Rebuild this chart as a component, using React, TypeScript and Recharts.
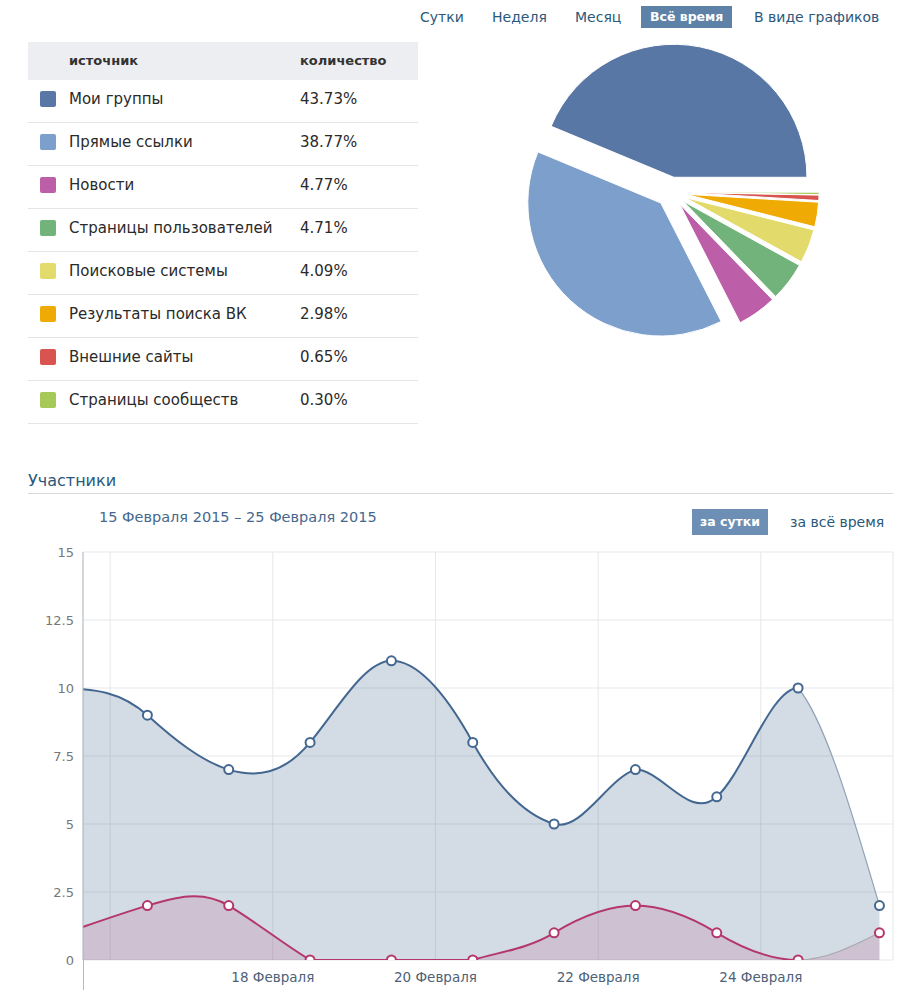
import React from 'react';
import {
  PieChart, Pie, Sector, ComposedChart, Area, Line, XAxis, YAxis, CartesianGrid,
} from 'recharts';

// Traffic sources (table + pie)
const SOURCES = [
  'Мои группы',
  'Прямые ссылки',
  'Новости',
  'Страницы пользователей',
  'Поисковые системы',
  'Результаты поиска ВК',
  'Внешние сайты',
  'Страницы сообществ',
];
const SHARES = [43.73, 38.77, 4.77, 4.71, 4.09, 2.98, 0.65, 0.3];
const SOURCE_COLORS = [
  '#5877a4', '#7d9fcb', '#bc5ea8', '#72b27b', '#e2db6c', '#efaa04', '#d9534f', '#a6c957',
];

const PERIODS = ['Сутки', 'Неделя', 'Месяц', 'Всё время', 'В виде графиков'];

// Members per day, 15–25 February 2015 (points stamped at 11:00)
const DAYS = [15, 16, 17, 18, 19, 20, 21, 22, 23, 24, 25];
const JOINED = [10, 9, 7, 8, 11, 8, 5, 7, 6, 10, 2];
const LEFT = [1, 2, 2, 0, 0, 0, 1, 2, 1, 0, 1];
const STAMP_HOUR = 11;
const VIEW = [15 + 16 / 24, 25 + 15 / 24];
const DAY_TICKS = [16, 18, 20, 22, 24];
const VALUE_TICKS = [0, 2.5, 5, 7.5, 10, 12.5, 15];

const FONT = '"DejaVu Sans", Verdana, sans-serif';
const LINK = '#2b587a';
const BLUE = '#436790';
const RED = '#b4376b';

const rows = DAYS.map((d, i) => ({ t: d + STAMP_HOUR / 24, joined: JOINED[i], left: LEFT[i] }));
const pieData = SOURCES.map((name, i) => ({ name, value: SHARES[i] }));

// Cardinal-like spline: may dip, but never rises above a peak point
// and never sinks below the series' lowest point
const TENSION = 1.8;
const tangents = (xs: number[], ys: number[]) => {
  const n = xs.length;
  const m = new Array(n).fill(0);
  if (n < 2) return m;
  for (let i = 1; i < n - 1; i++) m[i] = (TENSION * (ys[i + 1] - ys[i - 1])) / (xs[i + 1] - xs[i - 1]);
  const s0 = (ys[1] - ys[0]) / (xs[1] - xs[0]);
  const sn = (ys[n - 1] - ys[n - 2]) / (xs[n - 1] - xs[n - 2]);
  m[0] = n > 2 ? (3 * s0 - m[1]) / 2 : s0;
  m[n - 1] = n > 2 ? (3 * sn - m[n - 2]) / 2 : sn;
  return m;
};

const makeCurve = (part: 'all' | 'head' | 'tail') => (ctx: any) => {
  let xs: number[] = [];
  let ys: number[] = [];
  let line = NaN;
  return {
    areaStart() { line = 0; },
    areaEnd() { line = NaN; },
    lineStart() { xs = []; ys = []; },
    point(x: number, y: number) { xs.push(+x); ys.push(+y); },
    lineEnd() {
      const n = xs.length;
      if (n > 0) {
        const floor = Math.max(...ys);
        const m = tangents(xs, ys);
        // screen y grows downwards, so a peak has the smallest y
        const peak = (i: number) => i > 0 && i < n - 1 && ys[i] < ys[i - 1] && ys[i] < ys[i + 1];
        let from = 0;
        let to = n - 1;
        if (part === 'head') to = Math.max(0, n - 2);
        if (part === 'tail') from = Math.max(0, n - 2);
        if (line) ctx.lineTo(xs[from], ys[from]);
        else ctx.moveTo(xs[from], ys[from]);
        for (let i = from; i < to; i++) {
          const h = (xs[i + 1] - xs[i]) / 3;
          let c1 = ys[i] + m[i] * h;
          let c2 = ys[i + 1] - m[i + 1] * h;
          if (peak(i)) c1 = Math.max(c1, ys[i]);
          if (peak(i + 1)) c2 = Math.max(c2, ys[i + 1]);
          c1 = Math.min(c1, floor);
          c2 = Math.min(c2, floor);
          ctx.bezierCurveTo(xs[i] + h, c1, xs[i + 1] - h, c2, xs[i + 1], ys[i + 1]);
        }
      }
      if (line || (line !== 0 && n === 1)) ctx.closePath();
      line = 1 - line;
    },
  };
};
const curveAll = makeCurve('all');
const curveHead = makeCurve('head');
const curveTail = makeCurve('tail');

const RADIAN = Math.PI / 180;
const EXPLODE = 15;
const ExplodedSlice = (p: any) => {
  const dx = EXPLODE * Math.cos(-p.midAngle * RADIAN);
  const dy = EXPLODE * Math.sin(-p.midAngle * RADIAN);
  return (
    <Sector
      key={`slice-${p.index}`}
      cx={p.cx + dx}
      cy={p.cy + dy}
      innerRadius={0}
      outerRadius={p.outerRadius}
      startAngle={p.startAngle}
      endAngle={p.endAngle}
      fill={SOURCE_COLORS[p.index]}
      stroke="#fff"
      strokeWidth={1}
    />
  );
};

const dotFor = (color: string) => (p: any) => {
  if (p.payload.t < VIEW[0]) return <g key={`dot-${p.index}`} />;
  return (
    <circle key={`dot-${p.index}`} cx={p.cx} cy={p.cy} r={4.5} fill="#fff" stroke={color} strokeWidth={2} />
  );
};

const NAV_X = [420, 492, 575, 641, 754];

export default function App() {
  return (
    <div style={{ position: 'absolute', left: 0, top: 0, width: 920, height: 992, background: '#fff', fontFamily: FONT, color: '#333' }}>
      {/* period switch */}
      {PERIODS.map((p, i) => {
        const active = p === 'Всё время';
        return (
          <div
            key={p}
            style={{
              position: 'absolute', left: NAV_X[i], top: 6, height: 22, lineHeight: '22px',
              padding: active ? '0 9px' : 0, fontSize: active ? 12.5 : 14,
              fontWeight: active ? 700 : 400,
              background: active ? '#5e81a8' : 'transparent',
              color: active ? '#fff' : LINK, whiteSpace: 'nowrap',
            }}
          >
            {p}
          </div>
        );
      })}

      {/* sources table */}
      <div style={{ position: 'absolute', left: 28, top: 42, width: 390, height: 38, background: '#eceef1' }} />
      <div style={{ position: 'absolute', left: 69, top: 42, lineHeight: '38px', fontSize: 13, fontWeight: 700, color: '#333' }}>источник</div>
      <div style={{ position: 'absolute', left: 300, top: 42, lineHeight: '38px', fontSize: 13, fontWeight: 700, color: '#333' }}>количество</div>
      {SOURCES.map((s, i) => {
        const cy = 99 + 43 * i;
        return (
          <React.Fragment key={s}>
            <div style={{ position: 'absolute', left: 40, top: cy - 8, width: 16, height: 16, borderRadius: 2, background: SOURCE_COLORS[i] }} />
            <div style={{ position: 'absolute', left: 69, top: cy - 11, lineHeight: '22px', fontSize: 15, color: '#2a2a2a', whiteSpace: 'nowrap' }}>{s}</div>
            <div style={{ position: 'absolute', left: 300, top: cy - 11, lineHeight: '22px', fontSize: 15, color: '#2a2a2a' }}>{SHARES[i].toFixed(2)}%</div>
            <div style={{ position: 'absolute', left: 28, top: cy + 23, width: 390, height: 1, background: '#e3e5e8' }} />
          </React.Fragment>
        );
      })}

      {/* pie */}
      <div style={{ position: 'absolute', left: 500, top: 30 }}>
        <PieChart width={340} height={330}>
          <Pie
            data={pieData}
            dataKey="value"
            cx={166}
            cy={157}
            outerRadius={133}
            startAngle={0}
            endAngle={360}
            fill="transparent"
            stroke="none"
            label={ExplodedSlice}
            labelLine={false}
            isAnimationActive={false}
          />
        </PieChart>
      </div>

      {/* members block */}
      <div style={{ position: 'absolute', left: 28, top: 470, lineHeight: '22px', fontSize: 16, color: LINK }}>Участники</div>
      <div style={{ position: 'absolute', left: 28, top: 493, width: 865, height: 1, background: '#d5d9de' }} />
      <div style={{ position: 'absolute', left: 99, top: 506, lineHeight: '22px', fontSize: 14.5, color: '#45688e' }}>
        15 Февраля 2015 – 25 Февраля 2015
      </div>
      <div style={{ position: 'absolute', left: 692, top: 509, width: 76, height: 26, lineHeight: '26px', textAlign: 'center', background: '#6d8fb5', color: '#fff', fontSize: 12.5, fontWeight: 700 }}>
        за сутки
      </div>
      <div style={{ position: 'absolute', left: 790, top: 511, lineHeight: '22px', fontSize: 14, color: LINK }}>за всё время</div>

      <div style={{ position: 'absolute', left: 0, top: 540 }}>
        <ComposedChart width={920} height={452} data={rows} margin={{ top: 12, right: 27, bottom: 0, left: 0 }}>
          <CartesianGrid stroke="#e5e7ea" />
          <XAxis
            dataKey="t"
            type="number"
            domain={VIEW}
            allowDataOverflow
            ticks={DAY_TICKS}
            tickFormatter={(d: number) => (d === DAY_TICKS[0] ? '' : `${d} Февраля`)}
            axisLine={false}
            tickLine={false}
            tickMargin={6}
            height={32}
            tick={{ fill: '#4e6177', fontSize: 13.5, fontFamily: FONT }}
          />
          <YAxis
            domain={[0, 15]}
            ticks={VALUE_TICKS}
            allowDataOverflow
            width={83}
            tickLine={false}
            tickSize={0}
            tickMargin={9}
            axisLine={{ stroke: '#b4bac2' }}
            tick={{ fill: '#777', fontSize: 13, fontFamily: FONT }}
          />
          <Area dataKey="joined" type={curveAll as any} fill="#4f7299" fillOpacity={0.25} stroke="none" dot={false} activeDot={false} isAnimationActive={false} />
          <Area dataKey="left" type={curveAll as any} fill={RED} fillOpacity={0.16} stroke="none" dot={false} activeDot={false} isAnimationActive={false} />
          <Line dataKey="joined" type={curveTail as any} stroke="#8fa2b6" strokeWidth={1.2} dot={false} activeDot={false} isAnimationActive={false} />
          <Line dataKey="left" type={curveTail as any} stroke="#a9a9ad" strokeWidth={1.2} dot={false} activeDot={false} isAnimationActive={false} />
          <Line dataKey="joined" type={curveHead as any} stroke={BLUE} strokeWidth={2} dot={dotFor(BLUE)} activeDot={false} isAnimationActive={false} />
          <Line dataKey="left" type={curveHead as any} stroke={RED} strokeWidth={2} dot={dotFor(RED)} activeDot={false} isAnimationActive={false} />
        </ComposedChart>
      </div>
      {/* y axis line continues through the date labels */}
      <div style={{ position: 'absolute', left: 83, top: 960, width: 1, height: 30, background: '#b4bac2' }} />
    </div>
  );
}
